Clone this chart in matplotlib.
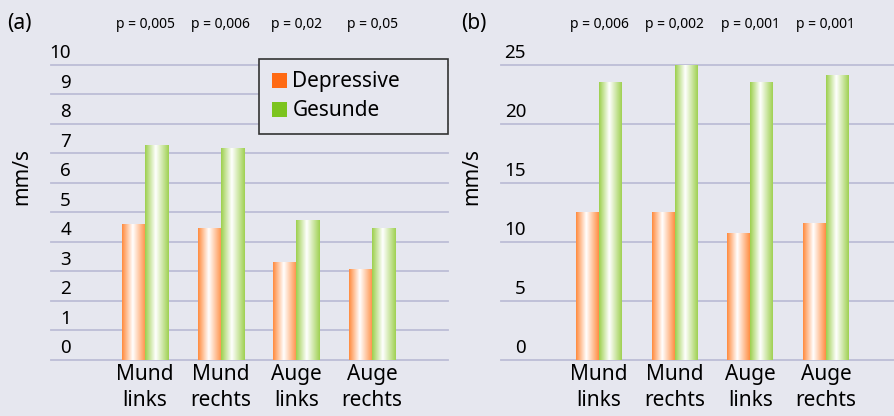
import numpy as np
import matplotlib
matplotlib.use("Agg")
import matplotlib.pyplot as plt
from matplotlib.colors import LinearSegmentedColormap, to_rgb
import matplotlib.transforms as mtransforms

plt.rcParams['font.family'] = ['Noto Sans', 'DejaVu Sans']

categories = ["Mund\nlinks", "Mund\nrechts", "Auge\nlinks", "Auge\nrechts"]
series_names = ["Depressive", "Gesunde"]

a_depressive = [4.60, 4.46, 3.31, 3.07]
a_gesunde = [7.28, 7.18, 4.74, 4.46]
a_pvalues = ["p = 0,005", "p = 0,006", "p = 0,02", "p = 0,05"]
a_yticks = [0, 1, 2, 3, 4, 5, 6, 7, 8, 9, 10]

b_depressive = [12.5, 12.5, 10.7, 11.6]
b_gesunde = [23.5, 25.0, 23.5, 24.1]
b_pvalues = ["p = 0,006", "p = 0,002", "p = 0,001", "p = 0,001"]
b_yticks = [0, 5, 10, 15, 20, 25]

BG = '#e6e7ef'
GRID = '#bcbdd6'
legend_colors = ['#ff6a13', '#7cc41e']
edge_colors = ['#ff8a3c', '#9ccf4c']

W, H = 894, 416
fig = plt.figure(figsize=(W / 100, H / 100), dpi=100)
fig.patch.set_facecolor(BG)


def px_axes(x0, x1, ytop, ybot):
    return fig.add_axes([x0 / W, 1 - ybot / H, (x1 - x0) / W, (ybot - ytop) / H])


def gradient_cmap(c):
    rgb = np.array(to_rgb(c))
    return LinearSegmentedColormap.from_list(
        'g', [(0.0, rgb), (0.45, (1, 1, 1)), (1.0, rgb * 0.97 + 0.03)])


def draw_panel(ax, dep, ges, pvals, yticks, xlim, tickpad_px, letter, letter_x):
    ax.set_facecolor(BG)
    for s in ax.spines.values():
        s.set_visible(False)
    x = np.arange(len(categories))
    w = 0.304
    b1 = ax.bar(x - w / 2, dep, w, color=legend_colors[0], label=series_names[0], zorder=2)
    b2 = ax.bar(x + w / 2, ges, w, color=legend_colors[1], label=series_names[1], zorder=2)
    grad = np.linspace(0, 1, 256).reshape(1, -1)
    for cont, c in ((b1, edge_colors[0]), (b2, edge_colors[1])):
        cm = gradient_cmap(c)
        for p in cont.patches:
            x0, y0 = p.get_x(), p.get_y()
            ax.imshow(grad, cmap=cm, aspect='auto', zorder=3, interpolation='bilinear',
                      extent=[x0, x0 + p.get_width(), y0, y0 + p.get_height()])
    for t in yticks:
        ax.axhline(t, color=GRID, lw=1.3, zorder=1, clip_on=False)
    ax.set_xlim(*xlim)
    ax.set_ylim(yticks[0], yticks[-1])
    ax.set_yticks(yticks)
    ax.set_yticklabels([str(t) for t in yticks])
    ax.tick_params(axis='y', length=0, pad=-tickpad_px * 0.72, labelsize=13.5)
    off = mtransforms.ScaledTranslation(0, 13.5 / 100, fig.dpi_scale_trans)
    for lab in ax.get_yticklabels():
        lab.set_transform(lab.get_transform() + off)
    ax.set_xticks(x)
    ax.set_xticklabels(categories, fontsize=15, linespacing=1.3)
    ax.tick_params(axis='x', length=0, pad=3)
    ax.set_ylabel('mm/s', fontsize=15)
    ax.yaxis.set_label_coords(-0.048, 0.62)
    trans = mtransforms.blended_transform_factory(ax.transData, fig.transFigure)
    for xi, pv in zip(x, pvals):
        ax.text(xi, 1 - 24 / H, pv, transform=trans, ha='center', va='center', fontsize=10)
    fig.text(letter_x / W, 1 - 23 / H, letter, ha='left', va='center', fontsize=15)


ax1 = px_axes(51, 448, 64.7, 359.7)
draw_panel(ax1, a_depressive, a_gesunde, a_pvalues, a_yticks, (-1.242, 4.004), 20, '(a)', 7)
leg = ax1.legend(loc='upper left',
                 bbox_to_anchor=(259 / W, 1 - 134 / H, (448 - 259) / W, 75 / H),
                 mode='expand',
                 bbox_transform=fig.transFigure, borderaxespad=0, fontsize=15,
                 frameon=True, fancybox=False, framealpha=1, facecolor=BG,
                 edgecolor='#333333', handlelength=0.75, handleheight=0.75,
                 handletextpad=0.25, borderpad=0.6, labelspacing=0.38)
leg.get_frame().set_linewidth(1.2)

ax2 = px_axes(501, 894, 64.7, 359.7)
draw_panel(ax2, b_depressive, b_gesunde, b_pvalues, b_yticks, (-1.295, 3.90), 25, '(b)', 461)

fig.savefig('out.png', dpi=100, facecolor=BG)
